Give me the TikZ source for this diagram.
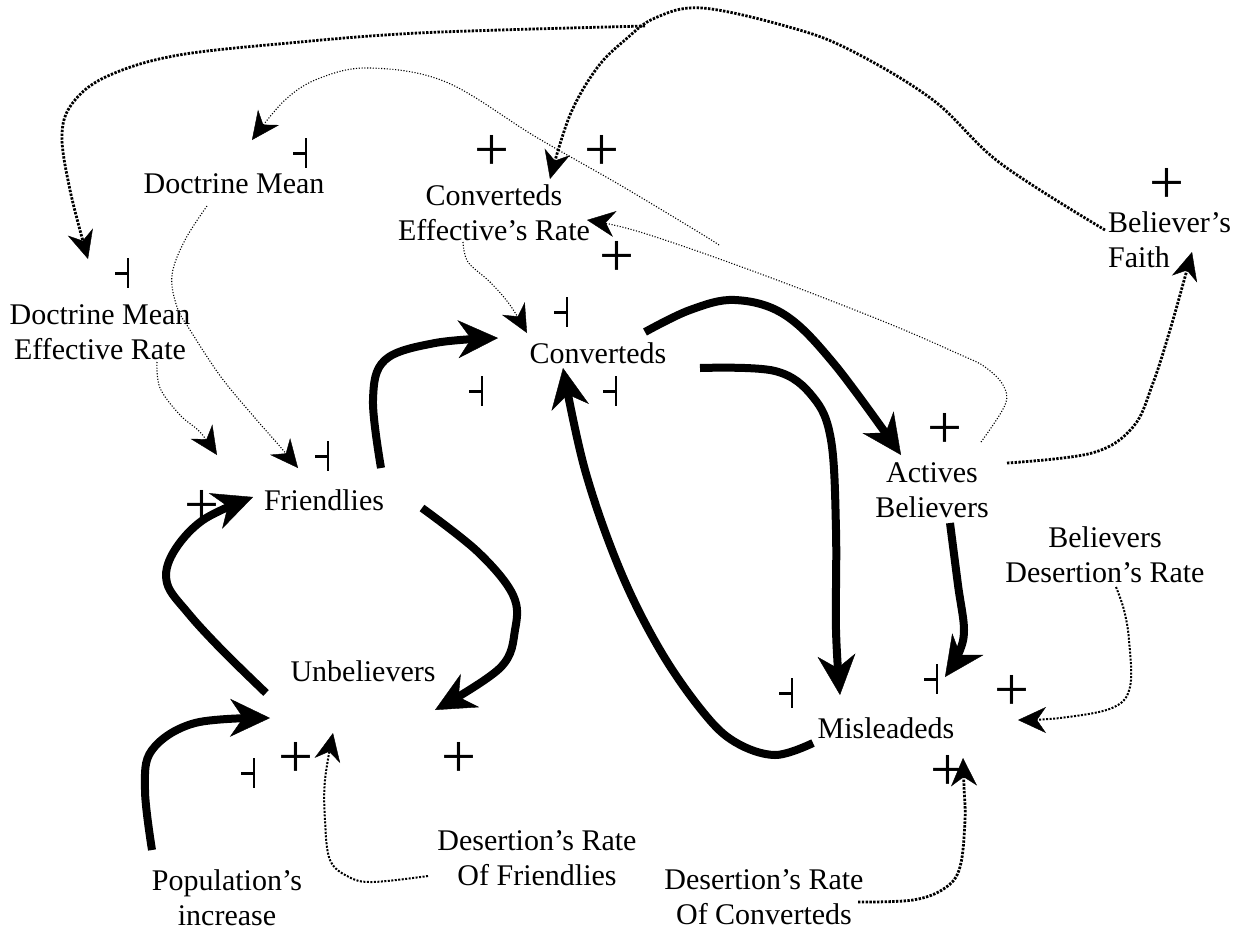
\documentclass[tikz,border=0pt]{standalone}
\usepackage{fontspec}
\setmainfont{Liberation Serif}
\usetikzlibrary{arrows.meta}
\begin{document}
\begin{tikzpicture}[x=1pt,y=-1pt,
  lbl/.style={font=\fontsize{30}{35}\selectfont, inner sep=0pt, anchor=base, align=center},
  pls/.style={font=\fontsize{62}{62}\selectfont, inner sep=0pt, anchor=center},
  flow/.style={line width=8pt, line join=round, -{Stealth[length=40pt,width=38pt,inset=13pt,line width=0.4pt]}},
  ithin/.style={line width=1.1pt, dash pattern=on 1.1pt off 1.7pt, -{Stealth[length=28pt,width=26pt,inset=9pt,line width=0.4pt]}},
  imed/.style={line width=2pt, dash pattern=on 2pt off 1.5pt, -{Stealth[length=28pt,width=26pt,inset=9pt,line width=0.4pt]}},
  ithick/.style={line width=2.8pt, dash pattern=on 2.4pt off 1.4pt, -{Stealth[length=28pt,width=26pt,inset=9pt,line width=0.4pt]}},
  negmark/.pic={\draw[line width=3pt] (-13,0) -- (0,0); \draw[line width=1.3pt] (0,-15) -- (0,15);}
]
\useasboundingbox[fill=white] (0,0) rectangle (1243,930);

% ---------- labels (anchor = baseline of the last line) ----------
\node[lbl] (DM) at (234,193) {Doctrine Mean};
\node[lbl] (CER) at (494,240) {Converteds\\Effective’s Rate};
\node[lbl] (DMER) at (100,359) {Doctrine Mean\\Effective Rate};
\node[lbl] (F) at (324,510) {Friendlies};
\node[lbl] (C) at (598,363) {Converteds};
\node[lbl] (AB) at (932,517) {Actives\\Believers};
\node[lbl] (BDR) at (1105,582) {Believers\\Desertion’s Rate};
\node[lbl, align=left, anchor=base west] (BF) at (1108,267) {Believer’s\\Faith};
\node[lbl] (U) at (363,681) {Unbelievers};
\node[lbl] (M) at (886,738) {Misleadeds};
\node[lbl] (DRF) at (537,885) {Desertion’s Rate\\Of Friendlies};
\node[lbl] (PI) at (227,925) {Population’s\\increase};
\node[lbl] (DRC) at (764,924) {Desertion’s Rate\\Of Converteds};

% ---------- signs ----------
\node[pls] (p1) at (492,153) {+};
\node[pls] (p2) at (602,153) {+};
\node[pls] (p3) at (617,259) {+};
\node[pls] (p4) at (1167,186) {+};
\node[pls] (p5) at (945,431) {+};
\node[pls] (p6) at (202,508) {+};
\node[pls] (p7) at (296,760) {+};
\node[pls] (p8) at (459,760) {+};
\node[pls] (p9) at (1012,693) {+};
\node[pls] (p10) at (948,773) {+};
\pic at (306,153) {negmark};
\pic at (128,273) {negmark};
\pic at (567,312) {negmark};
\pic at (328,456) {negmark};
\pic at (482,391) {negmark};
\pic at (616,391) {negmark};
\pic at (792,693) {negmark};
\pic at (937,679) {negmark};
\pic at (254,773) {negmark};

% ---------- connector end points ----------
\coordinate (U-F1) at (266,693);  \coordinate (F-U1) at (253,497);
\coordinate (F-C1) at (381,468);  \coordinate (C-F1) at (498,338);
\coordinate (F-U2) at (422,508);  \coordinate (U-F2) at (435,710);
\coordinate (PI-U1) at (152,850); \coordinate (U-PI1) at (270,718);
\coordinate (C-AB1) at (645,332); \coordinate (AB-C1) at (901,455);
\coordinate (C-M1) at (700,368);  \coordinate (M-C1) at (840,695);
\coordinate (M-C2) at (813,743);  \coordinate (C-M2) at (563,368);
\coordinate (AB-M1) at (950,523); \coordinate (M-AB1) at (945,677);

\coordinate (BF-o1) at (1105,230);  \coordinate (CER-i1) at (550,179);
\coordinate (split) at (645,26);    \coordinate (DMER-i1) at (88,259);
\coordinate (AB-o1) at (1007,463);  \coordinate (BF-i1) at (1192,252);
\coordinate (AB-o2) at (981,442);   \coordinate (CER-i2) at (587,220);
\coordinate (DM-o1) at (207,206);   \coordinate (F-i1) at (298,468);
\coordinate (DMER-o1) at (157,362); \coordinate (F-i2) at (217,455);
\coordinate (CER-o1) at (463,242);  \coordinate (C-i1) at (527,333);
\coordinate (BDR-o1) at (1116,587); \coordinate (M-i1) at (1018,720);
\coordinate (DRC-o1) at (858,902);  \coordinate (M-i2) at (963,758);
\coordinate (DRF-o1) at (428,876);  \coordinate (U-i1) at (333,733);
\coordinate (loose) at (719,245);   \coordinate (DM-i1) at (252,140);

% ---------- flows ----------
\draw[flow] plot[smooth,tension=0.6] coordinates {(U-F1) (222,650) (188,613) (167,583) (173,553) (203,520) (F-U1)};
\draw[flow] plot[smooth,tension=0.6] coordinates {(F-C1) (373,400) (385,360) (435,343) (C-F1)};
\draw[flow] plot[smooth,tension=0.6] coordinates {(F-U2) (478,552) (513,595) (515,630) (500,668) (U-F2)};
\draw[flow] plot[smooth,tension=0.6] coordinates {(PI-U1) (145,790) (152,750) (195,723) (U-PI1)};
\draw[flow] plot[smooth,tension=0.6] coordinates {(C-AB1) (690,310) (735,300) (785,315) (835,365) (AB-C1)};
\draw[flow] plot[smooth,tension=0.6] coordinates {(C-M1) (775,371) (813,397) (831,440) (836,530) (836,630) (M-C1)};
\draw[flow] plot[smooth,tension=0.6] coordinates {(M-C2) (775,755) (735,742) (703,712) (660,650) (620,570) (585,470) (C-M2)};
\draw[flow] plot[smooth,tension=0.6] coordinates {(AB-M1) (958,585) (964,630) (958,655) (M-AB1)};

% ---------- information links ----------
\draw[ithick] plot[smooth,tension=0.6] coordinates {(BF-o1) (1000,163) (933,100) (850,50) (789,27) (702,8) (655,18) (625,40) (597,68) (570,115) (CER-i1)};
\draw[ithick] plot[smooth,tension=0.6] coordinates {(split) (500,30) (400,34) (300,42) (179,55) (110,75) (75,100) (62,133) (70,190) (DMER-i1)};
\draw[ithick] plot[smooth,tension=0.6] coordinates {(AB-o1) (1092,453) (1133,427) (1153,383) (1170,330) (1185,277) (BF-i1)};
\draw[ithin] plot[smooth,tension=0.6] coordinates {(AB-o2) (1005,405) (1003,385) (985,367) (961,355) (880,320) (750,270) (640,232) (CER-i2)};
\draw[ithin] plot[smooth,tension=0.6] coordinates {(DM-o1) (185,240) (172,275) (177,307) (190,330) (221,377) (255,418) (277,443) (F-i1)};
\draw[ithin] plot[smooth,tension=0.6] coordinates {(DMER-o1) (160,388) (180,415) (200,432) (F-i2)};
\draw[ithin] plot[smooth,tension=0.6] coordinates {(CER-o1) (468,262) (490,282) (510,305) (C-i1)};
\draw[imed] plot[smooth,tension=0.6] coordinates {(BDR-o1) (1124,610) (1129,640) (1130,687) (1112,708) (1060,718) (M-i1)};
\draw[ithick] plot[smooth,tension=0.6] coordinates {(DRC-o1) (913,900) (945,888) (960,867) (965,820) (964,787) (M-i2)};
\draw[imed] plot[smooth,tension=0.6] coordinates {(DRF-o1) (373,882) (349,877) (330,860) (325,820) (325,780) (U-i1)};
\draw[ithin] plot[smooth,tension=0.6] coordinates {(loose) (700,233) (620,185) (536,137) (446,82) (370,68) (320,78) (285,100) (DM-i1)};
\end{tikzpicture}
\end{document}
